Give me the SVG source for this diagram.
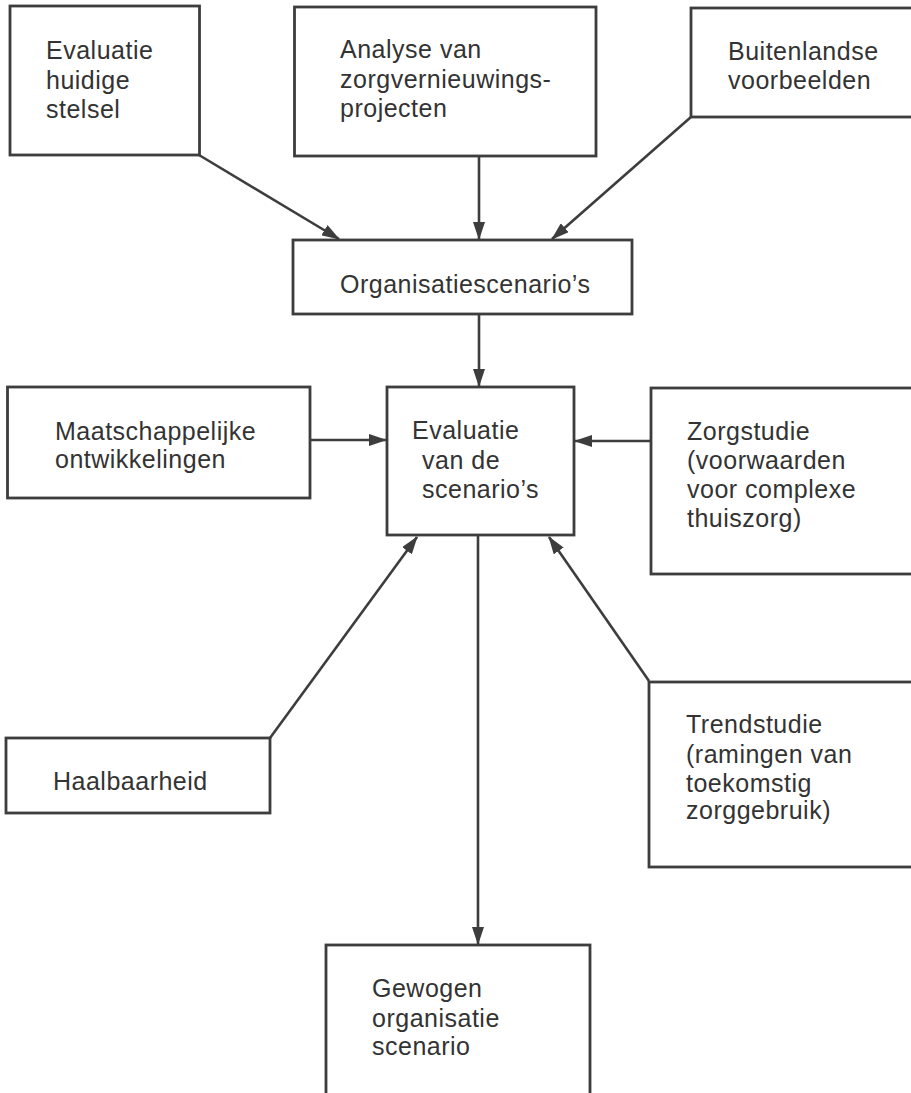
<svg xmlns="http://www.w3.org/2000/svg" width="911" height="1093" viewBox="0 0 911 1093">
<defs>
<style>
.box{fill:#fff;stroke:#3d3d3d;stroke-width:2.8}
.t{font-family:"Liberation Sans",Arial,Helvetica,sans-serif;font-size:25px;fill:#333;letter-spacing:0.5px}
.c{stroke:#3d3d3d;stroke-width:2.6;fill:none;marker-end:url(#ah)}
</style>
<marker id="ah" markerUnits="userSpaceOnUse" markerWidth="18" markerHeight="12" refX="17" refY="6" orient="auto">
<path d="M0,0 L18,6 L0,12 z" fill="#3d3d3d"/>
</marker>
</defs>
<rect width="911" height="1093" fill="#fff"/>
<g id="connectors">
<line class="c" x1="199" y1="155" x2="339" y2="239"/>
<line class="c" x1="479" y1="156" x2="479" y2="239"/>
<line class="c" x1="691" y1="117" x2="552" y2="239"/>
<line class="c" x1="479" y1="314" x2="479" y2="386"/>
<line class="c" x1="310" y1="440" x2="386" y2="440"/>
<line class="c" x1="651" y1="441" x2="575" y2="441"/>
<line class="c" x1="270" y1="738" x2="417" y2="537"/>
<line class="c" x1="649" y1="681" x2="549" y2="537"/>
<line class="c" x1="478" y1="536" x2="478" y2="944"/>
</g>
<g id="n1"><rect class="box" x="10" y="6" width="189.5" height="149"/>
<text class="t" x="46" y="59">Evaluatie</text><text class="t" x="46" y="89">huidige</text><text class="t" x="46" y="118">stelsel</text></g>
<g id="n2"><rect class="box" x="294.5" y="7" width="301.5" height="149"/>
<text class="t" x="340" y="58">Analyse van</text><text class="t" x="340" y="88">zorgvernieuwings-</text><text class="t" x="340" y="117">projecten</text></g>
<g id="n3"><rect class="box" x="691" y="8" width="240" height="109"/>
<text class="t" x="728" y="60">Buitenlandse</text><text class="t" x="728" y="89">voorbeelden</text></g>
<g id="n4"><rect class="box" x="293" y="240" width="339" height="74"/>
<text class="t" x="340" y="293">Organisatiescenario’s</text></g>
<g id="n5"><rect class="box" x="7.5" y="387" width="302.5" height="111"/>
<text class="t" x="55" y="440">Maatschappelijke</text><text class="t" x="55" y="468">ontwikkelingen</text></g>
<g id="n6"><rect class="box" x="387" y="387" width="187" height="148"/>
<text class="t" x="412" y="439">Evaluatie</text><text class="t" x="422" y="469">van de</text><text class="t" x="422" y="498">scenario’s</text></g>
<g id="n7"><rect class="box" x="651" y="388" width="270" height="186"/>
<text class="t" x="687" y="440">Zorgstudie</text><text class="t" x="687" y="469">(voorwaarden</text><text class="t" x="687" y="498">voor complexe</text><text class="t" x="687" y="527">thuiszorg)</text></g>
<g id="n8"><rect class="box" x="6" y="738" width="264" height="75"/>
<text class="t" x="53" y="790">Haalbaarheid</text></g>
<g id="n9"><rect class="box" x="649" y="682" width="270" height="185"/>
<text class="t" x="686" y="733">Trendstudie</text><text class="t" x="686" y="763">(ramingen van</text><text class="t" x="686" y="792">toekomstig</text><text class="t" x="686" y="819">zorggebruik)</text></g>
<g id="n10"><rect class="box" x="326" y="945" width="264" height="160"/>
<text class="t" x="372" y="997">Gewogen</text><text class="t" x="372" y="1027">organisatie</text><text class="t" x="372" y="1055">scenario</text></g>
</svg>
